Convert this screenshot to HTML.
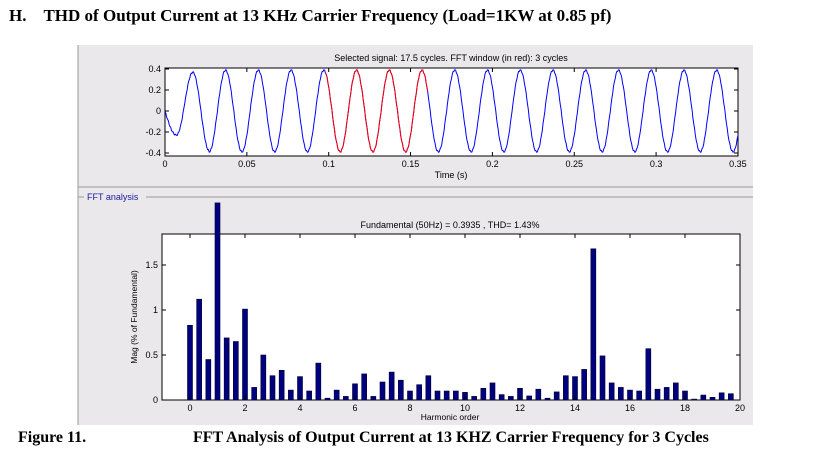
<!DOCTYPE html>
<html><head><meta charset="utf-8"><style>
body{margin:0;background:#fff;width:824px;height:460px;overflow:hidden;position:relative;font-family:"Liberation Sans",sans-serif}
.t{position:absolute;font-family:"Liberation Serif",serif;font-weight:bold;white-space:nowrap}
</style></head><body>
<div class="t" style="left:9px;top:6px;font-size:17px">H.&nbsp;&nbsp;&nbsp;&nbsp;THD of Output Current at 13 KHz Carrier Frequency (Load=1KW at 0.85 pf)</div>
<svg id="s" width="824" height="460" style="position:absolute;left:0;top:0" font-family="Liberation Sans, sans-serif" font-size="9">
<rect x="78" y="45" width="675" height="380" fill="#ebe8eb"/>
<line x1="78" y1="45" x2="78" y2="425" stroke="#999"/>
<line x1="78" y1="187" x2="753" y2="187" stroke="#999"/>
<line x1="78" y1="197" x2="753" y2="197" stroke="#999"/>
<rect x="84" y="192" width="62" height="10" fill="#ebe8eb"/>
<text x="87" y="200" fill="#1a1aa0" font-size="9">FFT analysis</text>
<text x="451" y="61" text-anchor="middle">Selected signal: 17.5 cycles. FFT window (in red): 3 cycles</text>
<rect x="165" y="68" width="573" height="88" fill="#fff" stroke="#000"/>
<g id="gtop"></g>
<text x="451" y="178" text-anchor="middle">Time (s)</text>
<text x="450" y="228" text-anchor="middle">Fundamental (50Hz) = 0.3935 , THD= 1.43%</text>
<rect x="162" y="234" width="578" height="166" fill="#fff" stroke="#000"/>
<g id="gbot"></g>
<text x="450" y="420" text-anchor="middle" font-size="8.5">Harmonic order</text>
<text transform="translate(137,317) rotate(-90)" text-anchor="middle" font-size="8.5">Mag (% of Fundamental)</text>
</svg>
<div class="t" style="left:18px;top:429px;font-size:16px">Figure 11.</div>
<div class="t" style="left:193px;top:429px;font-size:16px">FFT Analysis of Output Current at 13 KHZ Carrier Frequency for 3 Cycles</div>
<script>
(function(){
var NS="http://www.w3.org/2000/svg";
function el(p,n,a,txt){var e=document.createElementNS(NS,n);for(var k in a)e.setAttribute(k,a[k]);if(txt!=null)e.textContent=txt;p.appendChild(e);return e;}
var gt=document.getElementById("gtop"),gb=document.getElementById("gbot");
function X(t){return 165+t*1637;} function Y(v){return 111-v*105;}
function f(t){var r=0.008*Math.sin(2*Math.PI*650*t);
 if(t<0.007)return -0.23*Math.sin(Math.PI/2*t/0.007)+r;
 if(t<0.017)return 0.07-0.3*Math.cos(Math.PI*(t-0.007)/0.01)+r;
 if(t<0.027)return 0.37*(0.5+0.5*Math.cos(Math.PI*(t-0.017)/0.01))-0.38*(0.5-0.5*Math.cos(Math.PI*(t-0.017)/0.01))+r;
 return 0.39*Math.sin(2*Math.PI*50*(t-0.012))+r;}
var pb="",pr="";
for(var i=0;i<=700;i++){var t=i*0.0005;var p=X(t).toFixed(1)+","+Y(f(t)).toFixed(1)+" ";
 if(t>=0.098&&t<=0.1605)pr+=p; pb+=p;}
el(gt,"polyline",{points:pb,fill:"none",stroke:"#0000ff","stroke-width":1});
el(gt,"polyline",{points:pr,fill:"none",stroke:"#ff0000","stroke-width":1});
[0.4,0.2,0,-0.2,-0.4].forEach(function(v){var y=Y(v);el(gt,"line",{x1:165,y1:y,x2:169,y2:y,stroke:"#000"});el(gt,"line",{x1:734,y1:y,x2:738,y2:y,stroke:"#000"});el(gt,"text",{x:161,y:y+3,"text-anchor":"end"},String(v));});
for(var k=0;k<=7;k++){var t=k*0.05,x=X(t);el(gt,"line",{x1:x,y1:156,x2:x,y2:152,stroke:"#000"});el(gt,"line",{x1:x,y1:68,x2:x,y2:72,stroke:"#000"});el(gt,"text",{x:x,y:167,"text-anchor":"middle"},k==0?"0":String(+t.toFixed(2)));}
var h=[0.83,1.12,0.45,2.19,0.69,0.65,1.01,0.14,0.5,0.27,0.33,0.11,0.26,0.1,0.41,0.02,0.11,0.04,0.18,0.29,0.04,0.2,0.31,0.22,0.1,0.17,0.27,0.1,0.1,0.1,
0.085,0.04,0.13,0.19,0.06,0.04,0.13,0.045,0.12,0.02,0.09,0.27,0.26,0.34,1.68,0.49,0.19,0.14,0.11,0.1,0.57,0.12,0.14,0.19,0.1,0.01,0.055,0.03,0.08,0.07];
function BX(hh){return 190+hh*27.5;}
h.forEach(function(v,i){var x=BX(i/3);var ty=400-v*90;el(gb,"rect",{x:x-2.5,y:ty,width:5,height:400-ty,fill:"#00007f",stroke:"#000033","stroke-width":0.6});});
[0,0.5,1,1.5].forEach(function(v){var y=400-v*90;el(gb,"line",{x1:162,y1:y,x2:166,y2:y,stroke:"#000"});el(gb,"line",{x1:736,y1:y,x2:740,y2:y,stroke:"#000"});el(gb,"text",{x:158,y:y+3,"text-anchor":"end","font-size":9},String(v));});
for(var k=0;k<=20;k+=2){var x=BX(k);el(gb,"line",{x1:x,y1:400,x2:x,y2:396,stroke:"#000"});el(gb,"line",{x1:x,y1:234,x2:x,y2:238,stroke:"#000"});el(gb,"text",{x:x,y:411,"text-anchor":"middle","font-size":9},String(k));}
})();
</script>
</body></html>
